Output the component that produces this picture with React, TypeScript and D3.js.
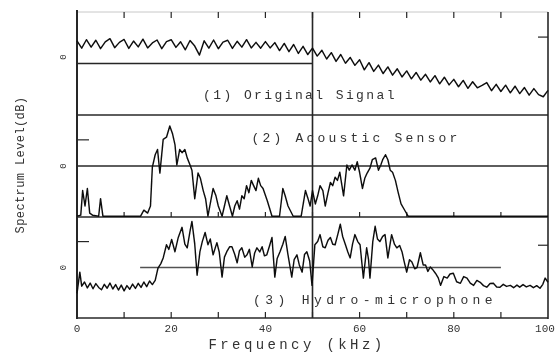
import React from "react";
import * as d3 from "d3";

const W = 558;
const H = 353;

const freqTickLabels = [0, 20, 40, 60, 80, 100];
const minorTicks = [10, 20, 30, 40, 50, 60, 70, 80, 90];
const panelTitles = ["(1) Original Signal", "(2) Acoustic Sensor", "(3) Hydro-microphone"];
const refLabels = ["0", "0", "0"];
const yTitle = "Spectrum Level(dB)";
const xTitle = "Frequency (kHz)";

// Panel 1: original signal, sampled every 1 kHz from 0 to 100 kHz (dB)
const originalSignal = [
  8.6, 5.8, 9.0, 6.2, 8.8, 5.6, 8.2, 9.4, 6.0, 8.0,
  9.1, 5.7, 8.5, 6.3, 9.2, 5.9, 7.8, 8.9, 5.6, 8.3,
  9.0, 6.1, 8.2, 5.2, 8.7, 6.6, 3.2, 8.6, 5.8, 8.9,
  5.6, 8.1, 8.8, 5.7, 8.4, 6.2, 9.0, 5.9, 8.0, 5.8,
  8.3, 5.9, 7.9, 4.9, 7.6, 4.5, 7.2, 3.8, 6.5, 3.4,
  5.8, 2.8, 5.0, 1.7, 4.1, 0.8, 3.4, 0.1, 2.3, -0.7,
  1.4, -2.4, 0.3, -3.0, -0.6, -3.8, -1.3, -4.4, -2.0, -5.1,
  -2.8, -5.8, -3.4, -6.3, -4.1, -7.0, -4.6, -7.7, -5.2, -8.1,
  -6.0, -8.8, -6.4, -9.4, -6.9, -9.2, -8.3, -7.2, -10.3, -7.9,
  -10.6, -8.2, -11.1, -8.6, -11.4, -9.1, -12.0, -9.5, -11.8, -12.6, -10.2,
];

// Panel 2: acoustic sensor [kHz, dB]
const acousticSensor: [number, number][] = [
  [0, -19.2], [0.8, -18.8], [1.2, -9.4], [1.7, -15.3], [2.2, -8.6], [2.7, -18.0], [3.3, -18.8],
  [4.6, -19.2], [5.0, -12.5], [5.5, -19.2], [13.5, -19.2], [14.2, -16.9], [15.0, -18.0],
  [15.6, -15.3], [16.0, -0.4], [16.6, 4.3], [17.1, 6.3], [17.6, -2.7], [18.3, 10.2], [19.0, 11.0],
  [19.7, 15.3], [20.3, 12.2], [20.8, 8.2], [21.2, 0.4], [21.8, 6.3], [22.3, 5.1], [22.9, 6.3],
  [23.4, 3.1], [24.0, 0.4], [24.4, -1.6], [25.0, -12.5], [25.7, -2.7], [26.2, -4.7], [26.8, -9.4],
  [27.3, -12.5], [27.8, -19.2], [28.4, -13.3], [28.9, -8.6], [29.5, -11.4], [30.0, -15.3],
  [30.8, -19.2], [31.3, -15.3], [31.8, -11.4], [32.4, -15.3], [33.0, -19.2], [33.5, -15.3],
  [34.0, -13.3], [34.5, -16.5], [35.0, -11.4], [35.5, -12.5], [36.0, -7.5], [36.5, -10.2],
  [37.0, -5.5], [37.5, -7.5], [38.0, -9.4], [38.5, -4.7], [39.0, -7.5], [39.5, -8.6],
  [40.4, -13.3], [41.4, -19.2], [43.0, -19.2], [43.7, -8.6], [44.2, -11.4], [44.8, -15.3],
  [45.9, -19.2], [47.6, -19.2], [48.5, -9.4], [49.0, -12.2], [49.5, -15.3], [50.0, -9.4],
  [50.6, -14.5], [51.1, -11.4], [51.6, -7.5], [52.2, -9.4], [52.7, -15.3], [53.3, -10.2],
  [53.8, -6.3], [54.3, -7.5], [54.8, -4.3], [55.3, -5.5], [55.8, -2.4], [56.6, -11.4],
  [57.3, 0.4], [57.8, -1.6], [58.4, 0.4], [59.0, -1.6], [59.5, 1.6], [60.0, -2.4], [60.6, -8.6],
  [61.1, -4.7], [61.6, -2.7], [62.2, -0.8], [62.7, 2.4], [63.4, 3.1], [64.0, -1.6], [64.5, 0.4],
  [64.9, 2.4], [65.5, 4.3], [66.0, 2.4], [66.5, -1.6], [67.0, -2.4], [67.6, -5.5], [68.2, -10.2],
  [68.8, -14.5], [69.7, -17.3], [70.3, -19.2], [100, -19.2],
];

// Panel 3: hydro-microphone [kHz, dB]
const hydroMicrophone: [number, number][] = [
  [0, -10], [0.6, -1.8], [1.0, -7.2], [1.6, -5.6], [2.2, -7.9], [2.8, -6.0], [3.4, -8.2], [4.0, -6.2],
  [4.6, -7.7], [5.2, -8.6], [5.8, -6.5], [6.4, -8.0], [7.0, -6.0], [7.6, -8.3], [8.2, -6.6],
  [8.8, -8.7], [9.4, -6.8], [10.0, -9.0], [10.6, -7.0], [11.2, -8.4], [11.8, -6.4], [12.4, -8.1],
  [13.0, -6.1], [13.6, -7.7], [14.2, -5.6], [14.8, -7.4], [15.4, -5.2], [16.0, -6.6], [16.6, -5.0],
  [17.2, -0.2], [17.8, 1.5], [18.3, 3.7], [19.0, 8.8], [19.5, 7.0], [20.1, 10.8], [20.8, 6.1],
  [21.5, 11.6], [22.3, 15.5], [22.9, 9.0], [23.4, 7.6], [24.0, 14.0], [24.4, 17.8], [25.0, 9.0],
  [25.5, -3.0], [26.1, 6.1], [26.6, 10.0], [27.2, 13.5], [27.8, 8.8], [28.3, 11.0], [28.9, 4.9],
  [29.7, 9.6], [30.2, 6.0], [30.8, -3.7], [31.3, 4.0], [31.8, 6.1], [32.4, 8.0], [32.9, 8.0],
  [33.5, 5.0], [34.0, 1.8], [34.5, 6.5], [35.0, 7.6], [35.6, 4.0], [36.1, 4.9], [36.6, 7.0],
  [37.2, 0.2], [37.7, 5.5], [38.2, 7.6], [38.8, 6.0], [39.3, 8.0], [39.8, 4.5], [40.3, 4.9],
  [40.9, 8.5], [41.4, 11.6], [42.0, -3.7], [42.5, 3.5], [43.1, 6.1], [43.7, 9.0], [44.2, 12.0],
  [44.8, 4.9], [45.6, -3.7], [46.1, 3.0], [46.7, 4.9], [47.2, 1.0], [47.8, -1.8], [48.3, 5.0],
  [48.8, 6.1], [49.4, 2.5], [49.9, -6.9], [50.5, 8.8], [51.1, 10.0], [51.6, 12.7], [52.2, 8.0],
  [52.7, 7.6], [53.3, 10.5], [53.8, 11.6], [54.3, 9.0], [54.8, 8.8], [55.4, 13.0], [55.9, 16.7],
  [56.4, 12.0], [57.0, 8.8], [57.5, 6.0], [58.0, 3.7], [58.5, 9.0], [59.0, 12.7], [59.6, 10.0],
  [60.1, 8.8], [60.8, -4.1], [61.5, 7.6], [61.9, 3.0], [62.2, -4.1], [62.8, 10.0], [63.3, 15.9],
  [63.8, 11.0], [64.3, 10.0], [64.9, 12.0], [65.4, 12.7], [66.0, 3.7], [66.8, 12.7], [67.4, 9.0],
  [67.9, 7.6], [68.5, 8.5], [69.0, 6.1], [69.5, 2.0], [70.0, -1.8], [70.6, 3.0], [71.1, 2.1],
  [71.7, -0.5], [72.2, 0.0], [72.9, 5.7], [73.5, 1.0], [74.0, 1.0], [74.5, -1.5], [75.0, 0.2],
  [75.6, -1.0], [76.1, -2.2], [76.7, -4.0], [77.2, -6.9], [77.9, -3.5], [78.6, -4.1], [79.2, -2.5],
  [79.9, -2.2], [80.6, -5.5], [81.4, -6.1], [82.1, -3.5], [82.8, -4.1], [83.5, -6.0], [84.2, -6.9],
  [84.9, -5.0], [85.6, -5.7], [86.3, -7.0], [87.0, -7.6], [87.7, -6.2], [88.4, -6.1], [89.1, -7.5],
  [89.8, -7.6], [90.5, -6.5], [91.2, -7.3], [92.0, -6.9], [92.7, -7.8], [93.4, -6.8], [94.0, -7.6],
  [94.7, -6.6], [95.4, -7.5], [96.2, -6.9], [96.9, -7.8], [97.6, -7.0], [98.3, -8.0], [98.9, -6.5],
  [99.4, -4.1], [100, -5.7],
];

// reference-line extents per panel [kHz from, kHz to]
const refSpans: [number, number][] = [[0, 50], [0, 100], [13.4, 90]];

export default function App() {
  const left = 77, right = 548, top = 12, bottom = 318;
  const x = d3.scaleLinear().domain([0, 100]).range([left, right]);
  const bounds: [number, number][] = [[12, 115], [115, 217], [217, 318]];
  const ys = bounds.map(([t, b]) => d3.scaleLinear().domain([-19.5, 19.5]).range([b, t]));

  const series: [number, number][][] = [
    originalSignal.map((v, i) => [i, v] as [number, number]),
    acousticSensor,
    hydroMicrophone,
  ];

  const ink = "#262626";
  const font = "'Liberation Mono', 'DejaVu Sans Mono', monospace";

  return (
    <svg width={W} height={H} viewBox={`0 0 ${W} ${H}`}
      style={{ position: "absolute", left: 0, top: 0, display: "block", background: "#fff" }}>
      <defs>
        <filter id="scan" x="-5%" y="-5%" width="110%" height="110%">
          <feGaussianBlur stdDeviation="0.35" />
        </filter>
      </defs>
      <rect x={0} y={0} width={W} height={H} fill="#fff" />
      <g filter="url(#scan)">
        {/* frame */}
        <line x1={left} x2={right} y1={top} y2={top} stroke="#c8c8c8" strokeWidth={1} />
        <line x1={left} x2={left} y1={top - 2} y2={bottom + 1} stroke={ink} strokeWidth={2} />
        <line x1={right} x2={right} y1={top} y2={bottom + 1} stroke={ink} strokeWidth={1.6} />
        <line x1={x(50)} x2={x(50)} y1={top} y2={bottom} stroke={ink} strokeWidth={1.6} />
        {[115, 217, bottom].map((yy, i) => (
          <line key={"h" + i} x1={left} x2={right} y1={yy} y2={yy} stroke={ink} strokeWidth={1.5} />
        ))}
        {/* reference lines */}
        {ys.map((y, i) => (
          <line key={"r" + i} x1={x(refSpans[i][0])} x2={x(refSpans[i][1])} y1={y(0)} y2={y(0)}
            stroke={ink} strokeWidth={1.3} opacity={i === 2 ? 0.8 : 1} />
        ))}
        {/* ticks */}
        {minorTicks.map((t) => (
          <g key={"t" + t}>
            <line x1={x(t)} x2={x(t)} y1={top} y2={top + 6} stroke={ink} strokeWidth={1.2} />
            <line x1={x(t)} x2={x(t)} y1={217} y2={212} stroke={ink} strokeWidth={1.2} />
            <line x1={x(t)} x2={x(t)} y1={bottom} y2={bottom - 6} stroke={ink} strokeWidth={1.2} />
          </g>
        ))}
        {/* +10 dB ticks */}
        {[1, 2].map((i) => (
          <line key={"lt" + i} x1={left} x2={left + 12} y1={ys[i](10)} y2={ys[i](10)} stroke={ink} strokeWidth={1.2} />
        ))}
        {[0, 2].map((i) => (
          <line key={"rt" + i} x1={right - 10} x2={right} y1={ys[i](i === 2 ? 8.6 : 10)} y2={ys[i](i === 2 ? 8.6 : 10)} stroke={ink} strokeWidth={1.2} />
        ))}
        {/* traces */}
        {series.map((s, i) => {
          const line = d3.line<[number, number]>().x((d) => x(d[0])).y((d) => ys[i](d[1]));
          return <path key={"s" + i} d={line(s) || ""} fill="none" stroke="#111" strokeWidth={1.45} strokeLinejoin="round" />;
        })}
        {/* panel titles */}
        <text x={300} y={99} fontFamily={font} fontSize={13} letterSpacing={2.4} fill="#333" textAnchor="middle">{panelTitles[0]}</text>
        <text x={356} y={142} fontFamily={font} fontSize={13} letterSpacing={3.2} fill="#333" textAnchor="middle">{panelTitles[1]}</text>
        <text x={375} y={304} fontFamily={font} fontSize={13} letterSpacing={4.4} fill="#333" textAnchor="middle">{panelTitles[2]}</text>
        {/* reference labels */}
        {ys.map((y, i) => (
          <text key={"rl" + i} transform={`translate(66,${i === 0 ? 57 : y(0)}) rotate(-90)`} fontFamily={font} fontSize={9} fill="#333" textAnchor="middle">{refLabels[i]}</text>
        ))}
        {/* x tick labels */}
        {freqTickLabels.map((t) => (
          <text key={"xl" + t} x={x(t) + (t === 100 ? -3 : 0)} y={332} fontFamily={font} fontSize={11} fill="#333" textAnchor="middle">{t}</text>
        ))}
        <text x={297} y={349} fontFamily={font} fontSize={14} letterSpacing={3.4} fill="#333" textAnchor="middle">{xTitle}</text>
        <text transform={`translate(24,165) rotate(-90)`} fontFamily={font} fontSize={12} letterSpacing={0.4} fill="#333" textAnchor="middle">{yTitle}</text>
      </g>
    </svg>
  );
}
